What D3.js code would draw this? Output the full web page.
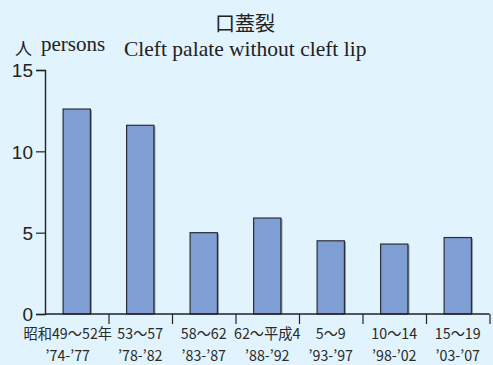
<!DOCTYPE html>
<html>
<head>
<meta charset="utf-8">
<script src="https://cdn.jsdelivr.net/npm/d3@7"></script>
<style>
  html, body { margin: 0; padding: 0; background: #e1f3fc; }
  svg { display: block; }
  .sans { font-family: "Liberation Sans", "Noto Sans CJK JP", sans-serif; }
  .cjk { font-family: "Noto Sans CJK JP", sans-serif; }
  .serif { font-family: "Liberation Serif", "DejaVu Serif", serif; }
</style>
</head>
<body>
<svg id="chart" width="493" height="365"></svg>
<script>
// Cleft palate without cleft lip, cases per five-year period
const periodsJa = ["昭和49〜52年", "53〜57", "58〜62", "62〜平成4", "5〜9", "10〜14", "15〜19"];
const periodsEn = ["’74-’77", "’78-’82", "’83-’87", "’88-’92", "’93-’97", "’98-’02", "’03-’07"];
const cases = [12.6, 11.6, 5.0, 5.9, 4.5, 4.3, 4.7];
const yTicks = [0, 5, 10, 15];

const svg = d3.select("#chart");
const W = 493, H = 365;
const m = { left: 45, right: 3.5, top: 70, bottom: 51 };

svg.append("rect").attr("width", W).attr("height", H).attr("fill", "#e1f3fc");

const x = d3.scaleBand()
  .domain(d3.range(cases.length))
  .range([m.left, W - m.right])
  .paddingInner(0.57)
  .paddingOuter(0.285);

const xBounds = d3.scaleLinear()
  .domain([0, cases.length])
  .range([m.left, W - m.right]);

const y = d3.scaleLinear().domain([0, 15]).range([H - m.bottom, m.top]);

// bars with a soft grey edge on the right
const bars = svg.append("g");
bars.selectAll("rect.shadow")
  .data(cases)
  .join("rect")
  .attr("class", "shadow")
  .attr("x", (d, i) => x(i) + 1.5)
  .attr("y", d => y(d) + 1)
  .attr("width", x.bandwidth())
  .attr("height", d => y(0) - y(d) - 1)
  .attr("fill", "#8a939c");
bars.selectAll("rect.bar")
  .data(cases)
  .join("rect")
  .attr("class", "bar")
  .attr("x", (d, i) => x(i))
  .attr("y", d => y(d))
  .attr("width", x.bandwidth())
  .attr("height", d => y(0) - y(d))
  .attr("fill", "#7f9fd4")
  .attr("stroke", "#2a2e36")
  .attr("stroke-width", 1.2);

// y axis
const yAxis = d3.axisLeft(y).tickValues(yTicks).tickSize(9).tickPadding(3);
const gy = svg.append("g")
  .attr("transform", `translate(${m.left},0)`)
  .call(yAxis);
gy.select(".domain").attr("stroke", "#222").attr("stroke-width", 1.4);
gy.selectAll(".tick line").attr("stroke", "#222").attr("stroke-width", 1.2);
gy.selectAll(".tick text")
  .attr("class", "sans")
  .attr("font-size", 19)
  .attr("fill", "#222")
  .attr("dy", "0.36em");

// x axis: ticks on period boundaries
const xAxis = d3.axisBottom(xBounds)
  .tickValues(d3.range(1, cases.length + 1))
  .tickSize(10)
  .tickFormat("");
const gx = svg.append("g")
  .attr("transform", `translate(0,${y(0)})`)
  .call(xAxis);
gx.select(".domain").attr("stroke", "#222").attr("stroke-width", 1.4).attr("d", `M${m.left},0H${W - m.right}`);
gx.selectAll(".tick line").attr("stroke", "#222").attr("stroke-width", 1.2);

// category labels, two lines, slightly condensed
const labels = svg.append("g").attr("fill", "#2a2a2a");
const cx = i => x(i) + x.bandwidth() / 2 - (i === 0 ? 9 : 0);
labels.selectAll("text.ja")
  .data(periodsJa)
  .join("text")
  .attr("class", "ja cjk")
  .attr("transform", (d, i) => `translate(${cx(i)},339) scale(0.95,1)`)
  .attr("text-anchor", "middle")
  .attr("font-size", 15)
  .text(d => d);
labels.selectAll("text.en")
  .data(periodsEn)
  .join("text")
  .attr("class", "en cjk")
  .attr("transform", (d, i) => `translate(${cx(i)},361) scale(0.95,1)`)
  .attr("text-anchor", "middle")
  .attr("font-size", 15)
  .text(d => d);

// titles
svg.append("text")
  .attr("class", "cjk")
  .attr("x", 245).attr("y", 31)
  .attr("text-anchor", "middle")
  .attr("font-size", 20)
  .attr("fill", "#222")
  .text("口蓋裂");
svg.append("text")
  .attr("class", "cjk")
  .attr("x", 15).attr("y", 55)
  .attr("font-size", 17)
  .attr("fill", "#222")
  .text("人");
svg.append("text")
  .attr("class", "serif")
  .attr("x", 41).attr("y", 51)
  .attr("font-size", 21)
  .attr("fill", "#222")
  .text("persons");
svg.append("text")
  .attr("class", "serif")
  .attr("x", 124).attr("y", 56)
  .attr("font-size", 21.5)
  .attr("fill", "#222")
  .text("Cleft palate without cleft lip");
</script>
</body>
</html>
